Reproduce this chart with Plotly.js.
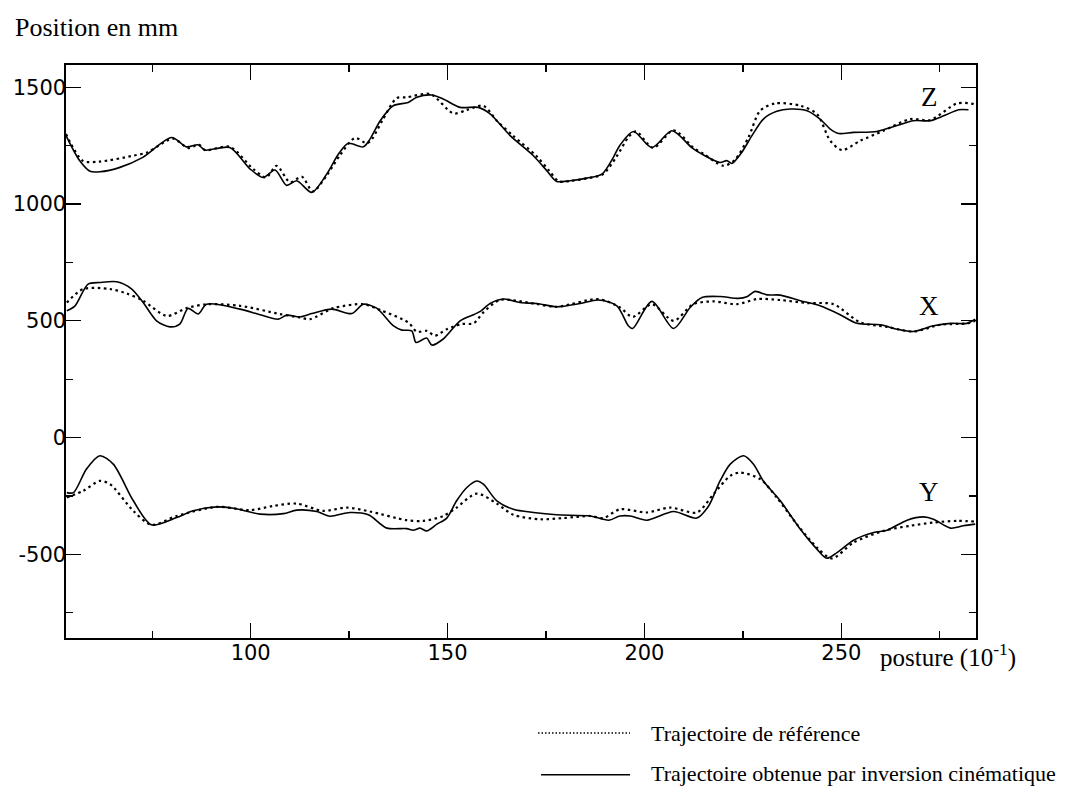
<!DOCTYPE html>
<html><head><meta charset="utf-8">
<script src="https://cdn.plot.ly/plotly-3.0.1.min.js"></script>
<style>html,body{margin:0;padding:0;background:#fff}#chart{width:1069px;height:787px}</style>
</head><body><div id="chart"></div>
<script>
// Z – reference (dotted) and obtained (solid)
const zRefX = [53.1,57.4,61.7,70.1,73.7,80.3,84.1,86.9,88.4,94.7,100.6,103.9,106.6,110.0,113.0,115.8,119.4,122.7,126.5,129.5,130.8,133.4,137.1,139.6,145.6,151.5,154.9,159.1,162.5,166.6,172.5,175.8,178.3,181.6,185.7,189.5,192.8,196.1,197.9,202.2,207.4,212.5,215.1,220.1,223.0,226.4,229.4,233.2,239.6,243.8,247.2,250.2,254.8,260.7,267.5,272.6,279.4,283.6,284.3];
const zRefY = [1300,1185,1182,1207,1221,1280,1240,1254,1231,1245,1151,1114,1164,1093,1117,1054,1125,1210,1283,1260,1278,1357,1454,1457,1471,1388,1403,1421,1357,1293,1207,1143,1097,1100,1111,1128,1200,1290,1311,1240,1316,1240,1214,1164,1190,1285,1400,1431,1421,1386,1271,1231,1271,1314,1364,1360,1431,1428,1420];
const zSolX = [53.1,56.6,59.2,61.7,66.8,72.6,79.9,83.7,86.6,88.4,94.7,99.8,103.2,106.2,109.1,111.7,115.5,119.3,122.3,124.8,128.6,130.3,132.9,136.2,140.0,142.2,146.0,148.9,153.2,157.8,160.8,165.9,171.8,175.2,177.7,181.1,185.4,189.2,192.1,193.7,197.2,201.9,207.0,212.0,214.6,219.2,220.9,222.2,224.7,227.3,230.2,233.6,237.0,241.3,244.6,247.2,249.3,253.1,259.0,264.1,268.3,272.6,276.0,279.8,282.3];
const zSolY = [1293,1185,1140,1138,1157,1200,1285,1245,1254,1231,1242,1151,1114,1146,1080,1100,1050,1128,1214,1260,1245,1278,1357,1421,1435,1457,1467,1450,1414,1414,1386,1293,1207,1143,1097,1100,1111,1128,1200,1250,1311,1242,1314,1242,1214,1178,1186,1174,1221,1293,1364,1397,1407,1400,1364,1321,1302,1307,1311,1336,1357,1357,1378,1404,1404];

// X
const xRefX = [53.3,57.5,64.3,68.5,72.7,78.7,83.7,88.8,97.3,107.4,112.5,115.1,121.0,128.6,132.9,140.0,142.2,144.7,146.8,149.8,153.6,156.6,159.1,163.3,171.8,177.7,188.3,193.8,197.0,201.9,207.4,212.4,217.5,223.5,228.6,234.5,241.3,248.0,254.8,261.6,268.3,275.1,281.9,284.0];
const xRefY = [578,636,636,617,586,521,554,571,564,529,514,507,554,571,546,493,453,457,436,464,486,489,536,589,574,560,593,557,517,571,500,571,583,571,593,589,576,571,493,474,454,483,489,500];
const xSolX = [53.3,55.4,58.7,61.7,66.0,69.8,72.7,76.1,79.5,82.0,84.1,86.7,88.8,97.3,102.4,107.0,109.1,112.5,115.5,120.6,125.7,128.6,132.0,136.2,138.4,140.9,142.0,144.7,146.0,148.9,153.2,156.6,158.3,160.8,164.2,168.4,172.7,177.7,183.7,188.3,193.0,195.9,197.0,201.9,207.4,211.6,214.6,219.2,223.9,226.0,228.1,231.1,234.5,239.6,244.6,249.7,254.0,259.9,264.1,268.3,273.4,277.7,281.9,284.0];
const xSolY = [543,564,657,664,667,636,578,500,474,486,553,529,571,550,526,507,524,517,531,550,531,571,554,479,460,457,407,426,396,422,500,526,540,574,593,578,574,560,574,589,564,479,467,583,467,557,600,604,596,603,626,611,610,586,564,526,489,483,464,454,479,489,489,507];

// Y
const yRefX = [53.3,57.5,61.7,64.3,70.2,74.8,81.2,91.4,99.8,105.7,111.7,118.4,124.4,130.3,139.6,143.9,148.9,152.3,157.4,162.5,166.7,173.5,179.4,186.2,189.6,193.8,200.6,206.5,213.3,217.5,221.8,224.3,229.4,233.6,238.7,243.8,247.6,253.1,260.7,267.5,273.4,279.4,284.0];
const yRefY = [-257,-228,-186,-200,-314,-374,-336,-297,-311,-293,-283,-314,-300,-317,-354,-357,-336,-300,-240,-283,-331,-350,-345,-336,-345,-307,-321,-300,-321,-243,-164,-150,-178,-257,-371,-471,-518,-450,-400,-378,-364,-357,-360];
const ySolX = [53.3,55.0,58.3,61.7,65.1,70.2,74.8,81.2,85.4,91.4,95.6,102.4,108.3,111.7,116.8,120.1,125.2,129.9,134.6,139.6,141.3,143.0,144.7,147.3,149.8,152.3,154.9,157.4,159.1,162.5,166.7,171.8,177.7,186.2,190.9,193.8,196.4,200.6,207.4,213.3,216.3,219.2,221.8,225.2,227.7,230.2,234.5,239.6,243.8,246.3,248.9,253.1,258.2,261.6,266.7,270.9,273.4,277.7,281.0,284.0];
const ySolY = [-236,-236,-135,-78,-114,-271,-374,-343,-314,-297,-303,-328,-326,-311,-317,-337,-321,-331,-388,-390,-397,-388,-400,-371,-345,-271,-214,-186,-200,-271,-307,-321,-331,-336,-354,-336,-336,-354,-317,-345,-293,-186,-114,-78,-114,-186,-271,-393,-478,-517,-493,-440,-407,-397,-354,-340,-350,-388,-378,-371];

// Axes
const xTickVals = [100,150,200,250];
const xMinorVals = [75,125,175,225,275];
const yTickVals = [-500,0,500,1000,1500];
const yTickText = ['-500','0','500','1000','1500'];
const yMinorVals = [-750,-250,250,750,1250];

// Text
const yTitle = 'Position en mm';
const xTitle = 'posture (10<sup>-1</sup>)';
const seriesLabels = ['Z','X','Y'];
const labelX = 272.3;
const labelY = [1458, 564, -233];
const legendNames = ['Trajectoire de référence', 'Trajectoire obtenue par inversion cinématique'];

const dotStyle = {color:'#000', width:2.2, dash:'2.5px,3.5px', shape:'spline', smoothing:0.8};
const solStyle = {color:'#000', width:1.6, shape:'spline', smoothing:0.8};

const traces = [
  {x:zRefX, y:zRefY, mode:'lines', line:dotStyle, name:legendNames[0]},
  {x:zSolX, y:zSolY, mode:'lines', line:solStyle, name:legendNames[1]},
  {x:xRefX, y:xRefY, mode:'lines', line:dotStyle, name:legendNames[0]},
  {x:xSolX, y:xSolY, mode:'lines', line:solStyle, name:legendNames[1]},
  {x:yRefX, y:yRefY, mode:'lines', line:dotStyle, name:legendNames[0]},
  {x:ySolX, y:ySolY, mode:'lines', line:solStyle, name:legendNames[1]}
];

const serif = 'Liberation Serif, Times New Roman, serif';
const sans = 'DejaVu Sans, sans-serif';

const annotations = [
  {text:yTitle, xref:'paper', yref:'paper', x:-0.0582, y:1.066, xanchor:'left', yanchor:'middle', showarrow:false, font:{family:serif, size:26, color:'#000'}},
  {text:xTitle, xref:'paper', yref:'paper', x:0.892, y:-0.03, xanchor:'left', yanchor:'middle', showarrow:false, font:{family:serif, size:25, color:'#000'}},
  {text:legendNames[0], xref:'paper', yref:'paper', x:0.6407, y:-0.166, xanchor:'left', yanchor:'middle', showarrow:false, font:{family:serif, size:22, color:'#000'}},
  {text:legendNames[1], xref:'paper', yref:'paper', x:0.6407, y:-0.236, xanchor:'left', yanchor:'middle', showarrow:false, font:{family:serif, size:22, color:'#000'}}
];
seriesLabels.forEach((s,i)=>annotations.push({text:s, x:labelX, y:labelY[i], xref:'x', yref:'y', showarrow:false, xanchor:'center', yanchor:'middle', font:{family:serif, size:27, color:'#000'}}));

const shapes = [
  {type:'line', xref:'paper', yref:'paper', x0:0.5187, x1:0.6198, y0:-0.1658, y1:-0.1658, line:{color:'#000', width:1.5, dash:'1.5px,2px'}},
  {type:'line', xref:'paper', yref:'paper', x0:0.522, x1:0.6198, y0:-0.2385, y1:-0.2385, line:{color:'#000', width:1.5}}
];

const layout = {
  width:1069, height:787,
  margin:{l:66, r:93, t:65, b:149, pad:0},
  paper_bgcolor:'#fff', plot_bgcolor:'#fff',
  showlegend:false,
  xaxis:{range:[53.1,284.2], tickmode:'array', tickvals:xTickVals, ticks:'inside', ticklen:15, tickwidth:1.3, tickcolor:'#000',
    showline:true, linecolor:'#000', linewidth:1.6, mirror:'ticks', showgrid:false, zeroline:false, ticklabelstandoff:-5,
    tickfont:{family:sans, size:21, color:'#000'},
    minor:{tickmode:'array', tickvals:xMinorVals, ticks:'inside', ticklen:7, tickwidth:1.3, tickcolor:'#000', showgrid:false}},
  yaxis:{range:[-858.6,1595.5], tickmode:'array', tickvals:yTickVals, ticktext:yTickText, ticks:'inside', ticklen:15, tickwidth:1.3, tickcolor:'#000',
    showline:true, linecolor:'#000', linewidth:1.6, mirror:'ticks', showgrid:false, zeroline:false, ticklabelstandoff:-6,
    tickfont:{family:sans, size:21, color:'#000'},
    minor:{tickmode:'array', tickvals:yMinorVals, ticks:'inside', ticklen:7, tickwidth:1.3, tickcolor:'#000', showgrid:false}},
  annotations:annotations,
  shapes:shapes
};

Plotly.newPlot('chart', traces, layout, {displayModeBar:false, staticPlot:true});
</script>
</body></html>
